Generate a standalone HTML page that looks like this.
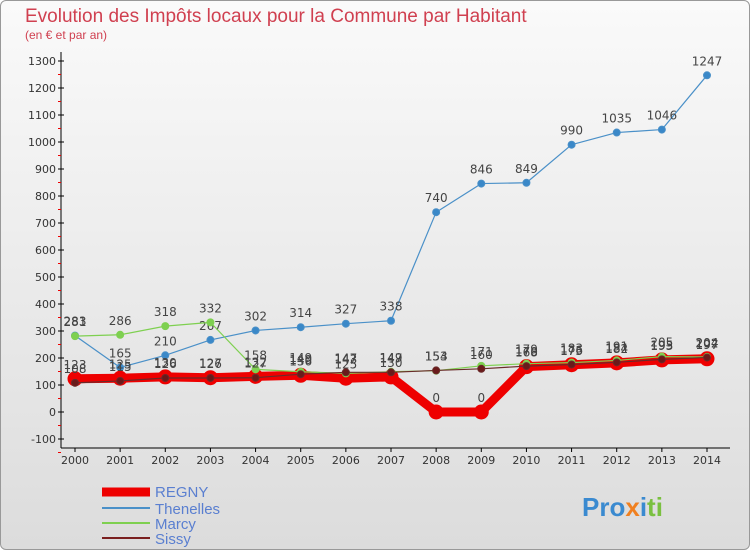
<!DOCTYPE html>
<html><head><meta charset="utf-8"><style>
body{margin:0;width:750px;height:550px;overflow:hidden;font-family:"DejaVu Sans","Liberation Sans",sans-serif}
#bg{position:absolute;left:0;top:0;width:748px;height:548px;border:1px solid #999;border-radius:6px;background:linear-gradient(#fafafa,#dcdcdc)}
</style></head><body>
<div id="bg"></div>
<svg id="c" width="750" height="550" style="position:absolute;left:0;top:0">
<text x="25" y="22" font-size="19" fill="#d04050" font-family="Liberation Sans">Evolution des Impôts locaux pour la Commune par Habitant</text>
<text x="25" y="39" font-size="12" fill="#d04050" font-family="Liberation Sans">(en € et par an)</text>
<g id="axes"></g><g id="series"></g>
<g font-size="15" fill="#5a7fd0" font-family="Liberation Sans">
<line x1="102" y1="492" x2="150" y2="492" stroke="#e00" stroke-width="9"/>
<text x="155" y="497">REGNY</text>
<line x1="102" y1="508" x2="150" y2="508" stroke="#4a90c8" stroke-width="2"/>
<text x="155" y="514">Thenelles</text>
<line x1="102" y1="523" x2="150" y2="523" stroke="#7ed050" stroke-width="2"/>
<text x="155" y="529">Marcy</text>
<line x1="102" y1="538" x2="150" y2="538" stroke="#7a2020" stroke-width="2"/>
<text x="155" y="544">Sissy</text>
</g>
<text x="582" y="516" font-size="26" font-weight="bold" font-family="Liberation Sans"><tspan fill="#3a8ad0">Pro</tspan><tspan fill="#f08020">x</tspan><tspan fill="#3a8ad0">i</tspan><tspan fill="#7ac040">ti</tspan></text>
</svg>
<script>
const years=[2000,2001,2002,2003,2004,2005,2006,2007,2008,2009,2010,2011,2012,2013,2014];
const regny=[123,125,130,127,132,136,125,130,0,0,168,175,182,193,197];
const thenelles=[283,165,210,267,302,314,327,338,740,846,849,990,1035,1046,1247];
const marcy=[281,286,318,332,158,149,143,149,153,171,179,183,191,205,204];
const sissy=[108,115,126,126,127,140,147,147,154,160,170,176,184,195,202];
const yTicks=[-100,0,100,200,300,400,500,600,700,800,900,1000,1100,1200,1300];
const NS="http://www.w3.org/2000/svg";
const X=i=>75+i*(707-75)/14, Y=v=>412-v*(351/1300);
function mk(p,t,a){const e=document.createElementNS(NS,t);for(const k in a)e.setAttribute(k,a[k]);p.appendChild(e);return e;}
const ax=document.getElementById('axes'),sg=document.getElementById('series');
let l=mk(ax,'line',{x1:61,y1:52,x2:61,y2:448,stroke:'#000'});


l=mk(ax,'line',{x1:61,y1:448,x2:730,y2:448,stroke:'#000'});


yTicks.forEach(v=>{const y=Y(v);mk(ax,'line',{x1:58,y1:y,x2:64,y2:y,stroke:'#000'});mk(ax,'line',{x1:58,y1:y+13.5,x2:61,y2:y+13.5,stroke:'#e00'});
const t=mk(ax,'text',{x:56,y:y+4,'font-size':11,'text-anchor':'end',fill:'#333'});t.textContent=v;

});
years.forEach((yr,i)=>{const x=X(i);mk(ax,'line',{x1:x,y1:448,x2:x,y2:452,stroke:'#000'});
const t=mk(ax,'text',{x:x,y:464,'font-size':11,'text-anchor':'middle',fill:'#333'});t.textContent=yr;

});
function series(name,d,color,w,r,mc){const g=mk(sg,'g',{});


mk(g,'polyline',{points:d.map((v,i)=>X(i)+','+Y(v)).join(' '),fill:'none',stroke:color,'stroke-width':w,'stroke-linejoin':'round'});
d.forEach((v,i)=>{const c=mk(g,'circle',{cx:X(i),cy:Y(v),r:r,fill:mc,stroke:color,'stroke-width':1});


const t=mk(g,'text',{x:X(i),y:Y(v)-10,'font-size':12,'text-anchor':'middle',fill:'#444'});t.textContent=v;

});}
series('thenelles',thenelles,'#4a90c8',1.2,3.5,'#3a88c8');
series('regny',regny,'#ee0000',9,7,'#ee0000');
series('marcy',marcy,'#7ed050',1.2,3.5,'#7ed050');
series('sissy',sissy,'#6a2a2a',1.2,3.5,'#6a1a1a');
</script>
</body></html>
